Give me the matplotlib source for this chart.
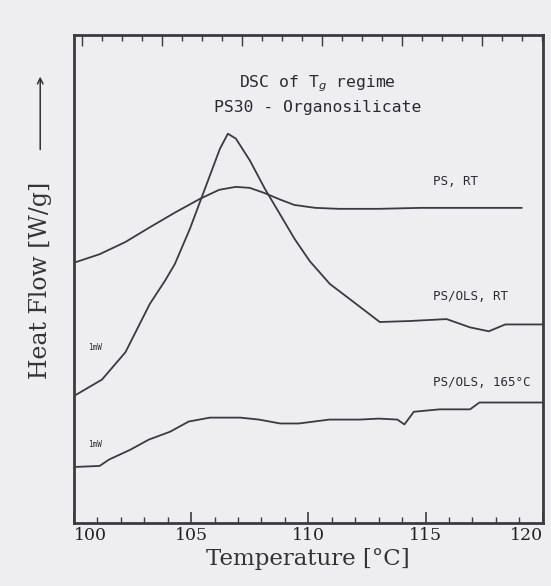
import matplotlib
matplotlib.use("Agg")
import matplotlib.pyplot as plt
from matplotlib.ticker import MultipleLocator, NullFormatter

# DSC traces in the Tg region (heat flow in arbitrary offset units)
temp_ps_rt = [100.1, 101.1, 102.2, 103.2, 104.3, 105.4, 106.2, 106.9, 107.5, 108.1,
              108.8, 109.4, 110.3, 111.3, 113.0, 114.8, 116.5, 118.2, 119.1]
flow_ps_rt = [5.35, 5.51, 5.76, 6.05, 6.36, 6.65, 6.83, 6.89, 6.87, 6.77,
              6.63, 6.52, 6.46, 6.44, 6.44, 6.46, 6.46, 6.46, 6.46]

temp_ols_rt = [100.1, 101.2, 102.2, 103.24, 103.88, 104.31, 104.95, 105.59, 106.23, 106.57,
               106.91, 107.51, 108.15, 108.78, 109.42, 110.06, 110.92, 111.77, 113.05, 114.3,
               115.9, 116.9, 117.7, 118.4, 120.0]
flow_ols_rt = [2.63, 2.94, 3.50, 4.49, 4.96, 5.31, 6.03, 6.85, 7.67, 7.98,
               7.88, 7.43, 6.85, 6.34, 5.82, 5.37, 4.90, 4.59, 4.12, 4.14,
               4.18, 4.01, 3.93, 4.07, 4.07]

temp_ols_165 = [100.1, 101.1, 101.5, 102.4, 103.2, 104.1, 104.9, 105.8, 107.1, 107.9,
                108.8, 109.6, 110.9, 112.2, 113.0, 113.8, 114.1, 114.5, 115.6, 116.9,
                117.3, 120.0]
flow_ols_165 = [1.15, 1.17, 1.30, 1.50, 1.71, 1.87, 2.08, 2.16, 2.16, 2.12,
                2.04, 2.04, 2.12, 2.12, 2.14, 2.12, 2.02, 2.28, 2.33, 2.33,
                2.47, 2.47]

curve_labels = ["PS, RT", "PS/OLS, RT", "PS/OLS, 165°C"]
x_ticks = [100, 105, 110, 115, 120]

ink = "#3a3a40"
paper = "#eeeef1"

fig = plt.figure(figsize=(5.51, 5.86), dpi=100, facecolor=paper)
ax = fig.add_axes([0.134, 0.1075, 0.851, 0.8325], facecolor=paper)

ax.plot(temp_ps_rt, flow_ps_rt, color=ink, lw=1.3)
ax.plot(temp_ols_rt, flow_ols_rt, color=ink, lw=1.3)
ax.plot(temp_ols_165, flow_ols_165, color=ink, lw=1.3)

ax.set_xlim(100, 120)
ax.set_ylim(0, 10)
ax.set_xticks(x_ticks)
ax.set_xticklabels([str(t) for t in x_ticks], family="DejaVu Serif", fontsize=12.5, color="#222")
# keep the end labels inside the frame
labels = ax.get_xticklabels()
labels[0].set_horizontalalignment("left")
labels[0].set_x(99.85)
labels[-1].set_horizontalalignment("right")
ax.xaxis.set_minor_locator(MultipleLocator(1))
ax.set_yticks([])
ax.tick_params(axis="x", which="major", direction="in", length=8, width=1.2, color=ink, pad=3)
ax.tick_params(axis="x", which="minor", direction="in", length=4, width=1.0, color=ink)
for sp in ax.spines.values():
    sp.set_color(ink)
    sp.set_linewidth(2)

# plotter tick row along the top edge
top = ax.twiny()
top.set_xlim(-4.4, 19.05)
top.xaxis.set_major_locator(MultipleLocator(4))
top.xaxis.set_minor_locator(MultipleLocator(1))
top.xaxis.set_major_formatter(NullFormatter())
top.tick_params(axis="x", which="major", direction="in", length=8, width=1.0, color=ink)
top.tick_params(axis="x", which="minor", direction="in", length=4, width=1.0, color=ink)
for sp in top.spines.values():
    sp.set_visible(False)

ax.set_xlabel("Temperature [°C]", family="DejaVu Serif", fontsize=16.5, color="#333", labelpad=3)

# y label with the arrow above it
fig.text(0.073, 0.522, "Heat Flow [W/g]", rotation=90, ha="center", va="center",
         family="DejaVu Serif", fontsize=17, color="#333")
ax.annotate("", xy=(0.073, 0.874), xycoords="figure fraction",
            xytext=(0.073, 0.74), textcoords="figure fraction",
            arrowprops=dict(arrowstyle="->", color="#333", lw=1.1))

mono = dict(family="DejaVu Sans Mono", color="#2a2a30")
ax.text(0.52, 0.9, "DSC of T$_g$ regime", transform=ax.transAxes, ha="center",
        va="center", fontsize=11.8, **mono)
ax.text(0.52, 0.851, "PS30 - Organosilicate", transform=ax.transAxes, ha="center",
        va="center", fontsize=11.8, **mono)

ax.text(115.3, 7.0, curve_labels[0], fontsize=9, va="center", **mono)
ax.text(115.3, 4.65, curve_labels[1], fontsize=9, va="center", **mono)
ax.text(115.3, 2.88, curve_labels[2], fontsize=9, va="center", **mono)

ax.text(100.6, 3.6, "1mW", fontsize=5.5, va="center", **mono)
ax.text(100.6, 1.6, "1mW", fontsize=5.5, va="center", **mono)

fig.savefig("out.png", dpi=100, facecolor=paper)
